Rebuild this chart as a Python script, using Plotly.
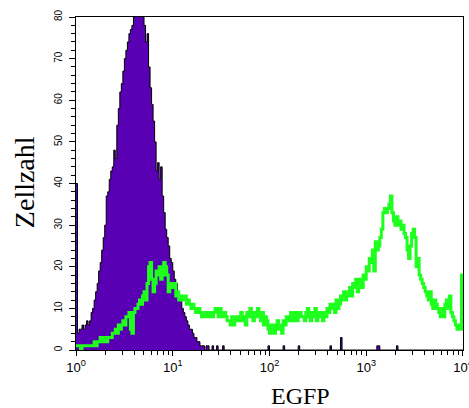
import numpy as np
import plotly.graph_objects as go

# 256 log channels spanning 10^0 .. 10^4
n_channels = 256
decades = 4

purple_counts = [
    40, 4, 5, 5, 6, 5, 6, 7, 6, 7,
    9, 10, 12, 14, 16, 19, 21, 24, 27, 30,
    37, 38, 41, 43, 44, 48, 46, 54, 58, 62,
    64, 67, 70, 72, 74, 76, 77, 78, 80, 82,
    84, 81, 83, 82, 80, 78, 74, 76, 68, 63,
    59, 55, 50, 43, 45, 41, 44, 37, 33, 29,
    27, 25, 22, 21, 19, 17, 16, 14, 12, 12,
    10, 9, 8, 7, 6, 5, 5, 4, 3, 3,
    2, 2, 1, 1, 1, 0, 1, 1, 0, 0,
    1, 0, 0, 1, 0, 0, 0, 1, 0, 0,
] + [0] * 156
for ch, v in [(127, 1), (137, 1), (147, 1), (168, 1), (175, 3), (199, 1), (200, 1), (212, 1)]:
    purple_counts[ch] = v

green_counts = [
    1, 1, 1, 0, 1, 1, 1, 1, 1, 1,
    1, 1, 2, 1, 2, 2, 3, 2, 3, 3,
    2, 3, 3, 3, 4, 4, 5, 4, 6, 5,
    6, 7, 6, 8, 8, 9, 5, 4, 9, 10,
    10, 11, 12, 11, 13, 14, 12, 16, 20, 21,
    17, 14, 16, 19, 18, 20, 17, 18, 21, 20,
    18, 14, 15, 16, 15, 16, 13, 14, 12, 13,
    12, 12, 13, 11, 12, 11, 10, 11, 10, 9,
    9, 10, 9, 8, 9, 8, 9, 8, 8, 9,
    8, 9, 10, 9, 8, 10, 9, 8, 9, 8,
    7, 7, 6, 8, 6, 7, 8, 7, 8, 9,
    7, 8, 6, 9, 8, 10, 8, 7, 9, 8,
    10, 8, 7, 9, 6, 8, 7, 5, 4, 6,
    5, 4, 6, 7, 5, 6, 4, 7, 6, 8,
    7, 8, 9, 7, 8, 9, 7, 8, 9, 8,
    8, 7, 9, 10, 8, 7, 9, 8, 10, 7,
    8, 9, 8, 7, 9, 8, 10, 9, 11, 10,
    11, 9, 12, 10, 11, 13, 12, 14, 12, 13,
    14, 15, 13, 16, 15, 17, 14, 16, 17, 15,
    18, 17, 20, 19, 22, 21, 24, 19, 26, 24,
    25, 27, 29, 33, 34, 33, 34, 35, 37, 33,
    31, 30, 32, 30, 31, 29, 30, 28, 27, 24,
    22, 25, 28, 29, 27, 20, 22, 18, 17, 16,
    15, 14, 13, 12, 14, 11, 10, 12, 11, 10,
    9, 8, 10, 8, 11, 12, 10, 13, 9, 8,
    7, 6, 5, 6, 5, 18,
]

x_tick_vals = [1, 10, 100, 1000, 10000]
x_tick_text = ["10<sup>0</sup>", "10<sup>1</sup>", "10<sup>2</sup>", "10<sup>3</sup>", "10<sup>4</sup>"]
y_tick_vals = [0, 10, 20, 30, 40, 50, 60, 70, 80]
x_title = "EGFP"
y_title = "Zellzahl"

edges = 10 ** (np.arange(n_channels + 1) * decades / n_channels)
xs = list(edges)


def step_y(vals):
    return list(vals) + [vals[-1]]


fig = go.Figure()
fig.add_trace(go.Scatter(
    x=xs, y=step_y(purple_counts), mode="lines", line_shape="hv",
    line=dict(color="black", width=1), fill="tozeroy", fillcolor="#5a00b4",
    showlegend=False, hoverinfo="skip"))
fig.add_trace(go.Scatter(
    x=xs, y=step_y(green_counts), mode="lines", line_shape="hv",
    line=dict(color="#1eff1e", width=3),
    showlegend=False, hoverinfo="skip"))

minor_x = [m * 10 ** d for d in range(4) for m in range(2, 10)]

fig.update_layout(
    width=469, height=408,
    margin=dict(l=76, r=6, t=17, b=58),
    paper_bgcolor="white", plot_bgcolor="white",
    font=dict(family="Liberation Sans, Arial", color="black", size=11),
    xaxis=dict(
        type="log", range=[0, 4.0002], showgrid=False, zeroline=False, automargin=False,
        showline=True, mirror=True, linecolor="black", linewidth=1.2,
        tickvals=x_tick_vals, ticktext=x_tick_text, ticks="outside",
        ticklen=5, tickwidth=1, tickcolor="black", ticklabeloverflow="allow",
        tickfont=dict(size=13, family="Liberation Sans, Arial"),
        minor=dict(tickvals=minor_x, ticks="outside", ticklen=4, tickcolor="black", tickwidth=1, showgrid=False),
    ),
    yaxis=dict(
        range=[0, 80], showgrid=False, zeroline=False, automargin=False,
        showline=True, mirror=True, linecolor="black", linewidth=1.2,
        tickvals=y_tick_vals, ticks="outside", ticklen=6, tickwidth=1, tickcolor="black",
        ticklabelstandoff=3,
        tickangle=-90, tickfont=dict(size=10, family="Liberation Sans, Arial"),
        minor=dict(dtick=2, ticks="outside", ticklen=4, tickcolor="black", tickwidth=1, showgrid=False),
    ),
    annotations=[
        dict(text=y_title, xref="paper", yref="paper", x=-0.134, y=0.5045,
             xanchor="center", yanchor="middle", textangle=-90, showarrow=False,
             font=dict(family="Liberation Serif, Times New Roman", size=28, color="black")),
        dict(text=x_title, xref="paper", yref="paper", x=0.579, y=-0.138,
             xanchor="center", yanchor="middle", showarrow=False,
             font=dict(family="Liberation Serif, Times New Roman", size=24, color="black")),
    ],
)

fig.write_html("out.html", config={"displayModeBar": False},
               post_script="document.body.style.margin='0px';")
